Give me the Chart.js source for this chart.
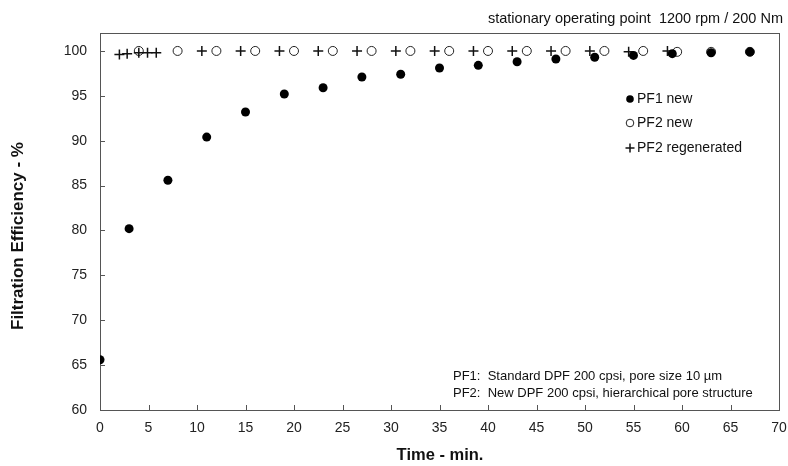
<!DOCTYPE html>
<html>
<head>
<meta charset="utf-8">
<script src="https://cdn.jsdelivr.net/npm/chart.js@4"></script>
<style>
  html, body { margin: 0; padding: 0; background: #fff; }
  #wrap { width: 788px; height: 466px; position: relative; }
</style>
</head>
<body>
<div id="wrap"><canvas id="effChart" width="788" height="466"></canvas></div>
<script>
// PF1 new (filled circles)
const pf1Time = [0, 3, 7, 11, 15, 19, 23, 27, 31, 35, 39, 43, 47, 51, 55, 59, 63, 67];
const pf1Eff = [65.6, 80.2, 85.6, 90.4, 93.2, 95.2, 95.9, 97.1, 97.4, 98.1, 98.4, 98.8, 99.1, 99.3, 99.5, 99.7, 99.8, 99.9];

// PF2 new (open circles)
const pf2NewTime = [4, 8, 12, 16, 20, 24, 28, 32, 36, 40, 44, 48, 52, 56, 59.5, 63, 67];
const pf2NewEff = [100, 100, 100, 100, 100, 100, 100, 100, 100, 100, 100, 100, 100, 100, 99.9, 99.9, 99.9];

// PF2 regenerated (crosses)
const pf2RegTime = [2, 2.8, 4, 4.9, 5.8, 10.5, 14.5, 18.5, 22.5, 26.5, 30.5, 34.5, 38.5, 42.5, 46.5, 50.5, 54.5, 58.5];
const pf2RegEff = [99.6, 99.7, 99.8, 99.8, 99.8, 100, 100, 100, 100, 100, 100, 100, 100, 100, 100, 100, 99.9, 100];

const yTicks = [60, 65, 70, 75, 80, 85, 90, 95, 100];
const chartTitle = 'stationary operating point  1200 rpm / 200 Nm';
const noteLines = ['PF1:  Standard DPF 200 cpsi, pore size 10 \u00b5m', 'PF2:  New DPF 200 cpsi, hierarchical pore structure'];
const legendLabels = ['PF1 new', 'PF2 new', 'PF2 regenerated'];

const FONT = '"Liberation Sans", Arial, sans-serif';

function toXY(xs, ys) {
    return xs.map((x, i) => ({ x: x, y: ys[i] }));
}

function drawMarker(ctx, kind, x, y, r) {
    ctx.save();
    ctx.beginPath();
    if (kind === 0) {
        ctx.fillStyle = '#000';
        ctx.arc(x, y, r, 0, Math.PI * 2);
        ctx.fill();
    } else if (kind === 1) {
        ctx.fillStyle = '#fff';
        ctx.strokeStyle = '#222';
        ctx.lineWidth = 1;
        ctx.arc(x, y, r, 0, Math.PI * 2);
        ctx.fill();
        ctx.stroke();
    } else {
        ctx.strokeStyle = '#111';
        ctx.lineWidth = 1.5;
        ctx.moveTo(x - r - 1, y); ctx.lineTo(x + r + 1, y);
        ctx.moveTo(x, y - r - 1); ctx.lineTo(x, y + r + 1);
        ctx.stroke();
    }
    ctx.restore();
}

const decorPlugin = {
    id: 'decor',
    beforeDatasetsDraw(chart) {
        const { ctx, chartArea: a, scales } = chart;
        ctx.save();
        ctx.strokeStyle = '#555';
        ctx.lineWidth = 1;
        ctx.strokeRect(a.left + 0.5, a.top + 0.5, a.right - a.left, a.bottom - a.top);
        // inward tick marks
        ctx.beginPath();
        for (let v = 5; v < 70; v += 5) {
            const px = Math.round(scales.x.getPixelForValue(v)) + 0.5;
            ctx.moveTo(px, a.bottom);
            ctx.lineTo(px, a.bottom - 5);
        }
        yTicks.forEach(v => {
            const py = Math.round(scales.y.getPixelForValue(v)) + 0.5;
            ctx.moveTo(a.left, py);
            ctx.lineTo(a.left + 5, py);
        });
        ctx.stroke();
        ctx.restore();
    },
    afterDraw(chart) {
        const { ctx } = chart;
        ctx.save();
        ctx.fillStyle = '#111';
        ctx.textBaseline = 'middle';

        // title
        ctx.font = '14.5px ' + FONT;
        ctx.textAlign = 'right';
        ctx.fillText(chartTitle, 783, 19);

        // axis titles
        ctx.textAlign = 'center';
        ctx.font = 'bold 16.5px ' + FONT;
        ctx.fillText('Time - min.', 440, 455);
        ctx.save();
        ctx.font = 'bold 17px ' + FONT;
        ctx.translate(18, 236);
        ctx.rotate(-Math.PI / 2);
        ctx.fillText('Filtration Efficiency - %', 0, 0);
        ctx.restore();

        // legend
        ctx.font = '14px ' + FONT;
        ctx.textAlign = 'left';
        const rows = [99, 123, 148];
        legendLabels.forEach((lab, i) => {
            drawMarker(ctx, i, 630, rows[i], i === 2 ? 3.5 : 3.8);
            ctx.fillStyle = '#111';
            ctx.fillText(lab, 637, rows[i]);
        });

        // notes
        ctx.font = '13px ' + FONT;
        ctx.fillText(noteLines[0], 453, 376);
        ctx.fillText(noteLines[1], 453, 393);
        ctx.restore();
    }
};

const ctx = document.getElementById('effChart').getContext('2d');
new Chart(ctx, {
    type: 'scatter',
    data: {
        datasets: [{
            label: legendLabels[0],
            data: toXY(pf1Time, pf1Eff),
            pointStyle: 'circle',
            pointRadius: 4.5,
            pointBackgroundColor: '#000',
            pointBorderColor: '#000',
            pointBorderWidth: 0,
            order: 0
        }, {
            label: legendLabels[1],
            data: toXY(pf2NewTime, pf2NewEff),
            pointStyle: 'circle',
            pointRadius: 4.5,
            pointBackgroundColor: '#fff',
            pointBorderColor: '#222',
            pointBorderWidth: 1,
            order: 2
        }, {
            label: legendLabels[2],
            data: toXY(pf2RegTime, pf2RegEff),
            pointStyle: 'cross',
            pointRadius: 5,
            pointBorderColor: '#111',
            pointBorderWidth: 1.5,
            order: 1
        }]
    },
    options: {
        animation: false,
        responsive: false,
        events: [],
        layout: { padding: { top: 33, right: 9, left: 0, bottom: 0 } },
        plugins: {
            legend: { display: false },
            tooltip: { enabled: false }
        },
        scales: {
            x: {
                type: 'linear',
                min: 0,
                max: 70,
                grid: { display: false, tickLength: 0 },
                border: { display: false },
                ticks: {
                    stepSize: 5,
                    padding: 10,
                    color: '#222',
                    font: { family: FONT, size: 14 },
                    maxRotation: 0
                },
                afterFit(scale) {
                    scale.height = 56;
                    scale.paddingLeft = 0;
                    scale.paddingRight = 0;
                }
            },
            y: {
                min: 60,
                max: 102,
                grid: { display: false, tickLength: 0 },
                border: { display: false },
                afterBuildTicks(scale) {
                    scale.ticks = yTicks.map(v => ({ value: v }));
                },
                ticks: {
                    padding: 13,
                    color: '#222',
                    font: { family: FONT, size: 14 }
                },
                afterFit(scale) { scale.width = 100; }
            }
        }
    },
    plugins: [decorPlugin]
});
</script>
</body>
</html>
